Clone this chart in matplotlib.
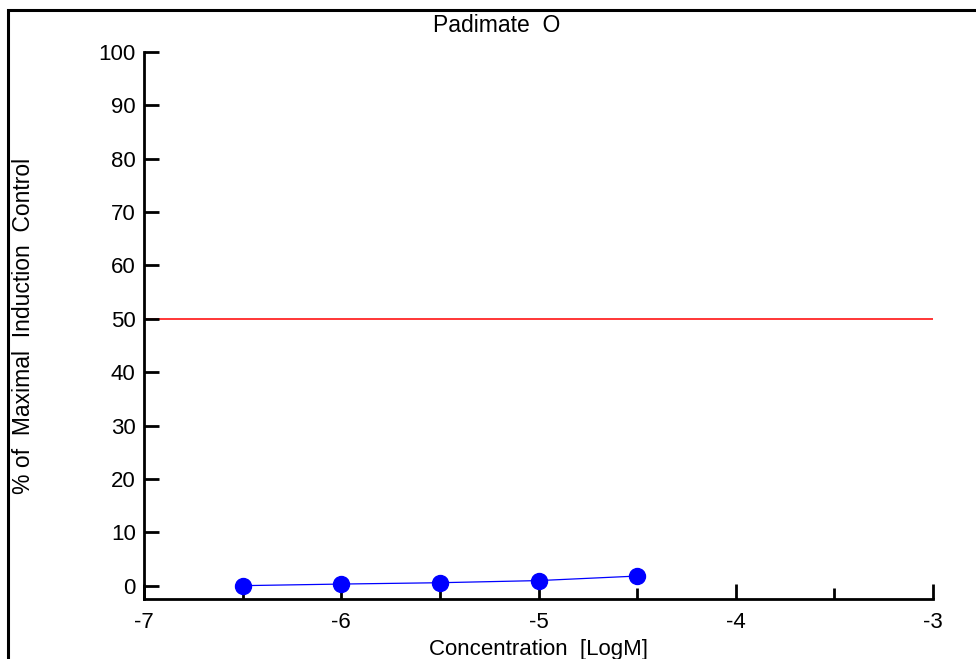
import matplotlib
matplotlib.use("Agg")
import matplotlib.pyplot as plt
from matplotlib.patches import Rectangle

plt.rcParams['font.family'] = ['Liberation Sans', 'DejaVu Sans']

conc = [-6.5, -6.0, -5.5, -5.0, -4.5]
induction = [0.0, 0.3, 0.55, 0.95, 1.8]
half_max = 50
x_ticks = [-7, -6, -5, -4, -3]
y_ticks = [0, 10, 20, 30, 40, 50, 60, 70, 80, 90, 100]

fig = plt.figure(figsize=(9.76, 6.59), dpi=100)
ax = fig.add_axes([144/976, 1-599/659, (933-144)/976, (599-52)/659])

ax.plot([-7, -3], [half_max, half_max], color="#ff0000", lw=1.1, zorder=1)
ax.plot(conc, induction, color="blue", lw=0.9, marker="o", ms=11.5,
        markerfacecolor="blue", markeredgecolor="blue", clip_on=False, zorder=3)

ax.set_xlim(-7, -3)
ax.set_ylim(-2.5, 100)
ax.set_xticks(x_ticks)
ax.set_xticks([-6.5, -5.5, -4.5, -3.5], minor=True)
ax.set_yticks(y_ticks)
ax.set_xticklabels([str(t) for t in x_ticks])

for s in ["top", "right"]:
    ax.spines[s].set_visible(False)
ax.spines["left"].set_linewidth(2)
ax.spines["bottom"].set_linewidth(2)

fs = 16
ax.tick_params(axis="x", which="major", direction="in", length=11, width=2,
               labelsize=fs, pad=9)
ax.tick_params(axis="x", which="minor", direction="in", length=8, width=2)
ax.tick_params(axis="y", which="major", direction="in", length=11, width=2,
               labelsize=fs, pad=6)

ax.set_xlabel("Concentration  [LogM]", fontsize=fs, labelpad=4.5)
ax.set_ylabel("% of  Maximal  Induction  Control", fontsize=16.5, labelpad=46)

fig.text(497/976, 1-25/659, "Padimate  O", ha="center", va="center", fontsize=16.5)

# outer frame, cropped on right and bottom
fig.patches.append(Rectangle((8/976, -0.1), 1.1, 1-10/659+0.1,
                             transform=fig.transFigure, fill=False,
                             edgecolor="black", lw=2.2))

fig.savefig("out.png", dpi=100)
